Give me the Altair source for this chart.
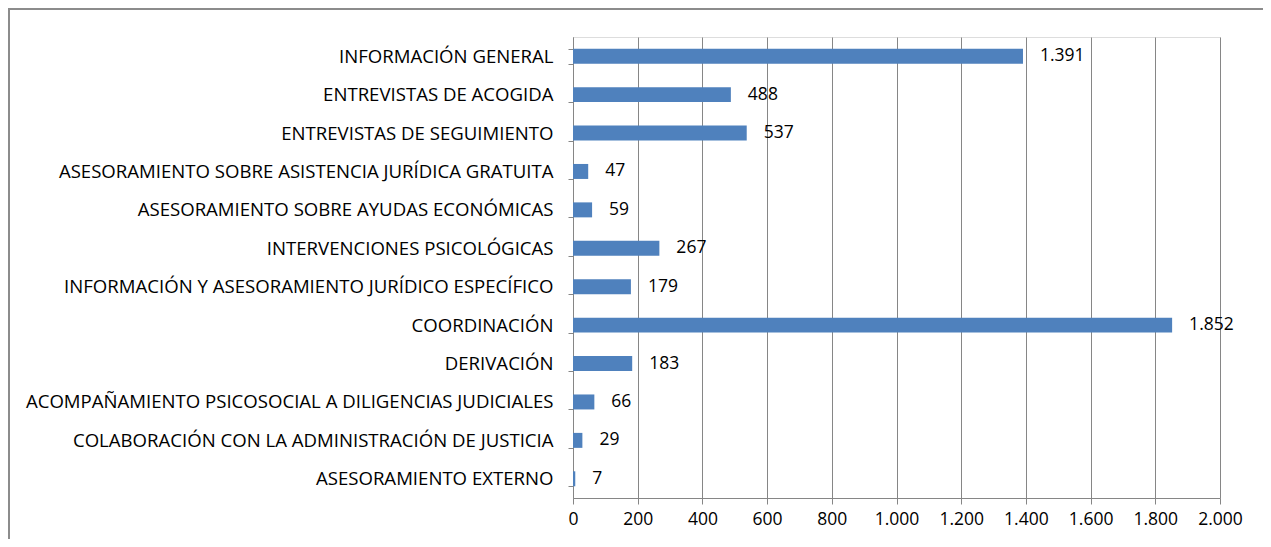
import altair as alt
import pandas as pd

categories = [
    "INFORMACIÓN GENERAL",
    "ENTREVISTAS DE ACOGIDA",
    "ENTREVISTAS DE SEGUIMIENTO",
    "ASESORAMIENTO SOBRE ASISTENCIA JURÍDICA GRATUITA",
    "ASESORAMIENTO SOBRE AYUDAS ECONÓMICAS",
    "INTERVENCIONES PSICOLÓGICAS",
    "INFORMACIÓN Y ASESORAMIENTO JURÍDICO ESPECÍFICO",
    "COORDINACIÓN",
    "DERIVACIÓN",
    "ACOMPAÑAMIENTO PSICOSOCIAL A DILIGENCIAS JUDICIALES",
    "COLABORACIÓN CON LA ADMINISTRACIÓN DE JUSTICIA",
    "ASESORAMIENTO EXTERNO",
]
values = [1391, 488, 537, 47, 59, 267, 179, 1852, 183, 66, 29, 7]
x_ticks = [0, 200, 400, 600, 800, 1000, 1200, 1400, 1600, 1800, 2000]

df = pd.DataFrame({"cat": categories, "val": values})

FONT = "Open Sans"
FS = 18.6
FS_NUM = 17.5
GRAY = "#868686"
W, H = 647, 461

y_enc = alt.Y(
    "cat:N",
    sort=categories,
    title=None,
    scale=alt.Scale(paddingInner=0.61, paddingOuter=0.305),
    axis=alt.Axis(
        tickBand="extent",
        domainColor=GRAY,
        tickColor=GRAY,
        tickSize=5,
        labelFontSize=FS,
        labelFont=FONT,
        labelColor="#000000",
        labelPadding=15,
        labelLimit=700,
        grid=False,
    ),
)
x_enc = alt.X(
    "val:Q",
    title=None,
    scale=alt.Scale(domain=[0, 2000], nice=False),
    axis=alt.Axis(
        values=x_ticks,
        labelExpr="replace(format(datum.value, ','), ',', '.')",
        labelOverlap=False,
        labelFlush=False,
        gridColor=GRAY,
        gridWidth=1,
        domainColor=GRAY,
        tickColor=GRAY,
        tickSize=6,
        labelFontSize=FS_NUM,
        labelFont=FONT,
        labelColor="#000000",
        labelPadding=6,
    ),
)

bars = alt.Chart(df).mark_bar(color="#4F81BD").encode(x=x_enc, y=y_enc)

texts = alt.Chart(df).transform_calculate(
    lbl="replace(format(datum.val, ','), ',', '.')"
).mark_text(align="left", dx=17, fontSize=FS_NUM, font=FONT, color="#000000").encode(
    x="val:Q", y=alt.Y("cat:N", sort=categories), text="lbl:N"
)

frame = alt.Chart(df).mark_rect(
    fill=None, stroke="#8c8c8c", strokeWidth=2
).encode(
    x=alt.value(-564), x2=alt.value(720), y=alt.value(-28), y2=alt.value(560)
)

chart = alt.layer(frame, bars, texts).properties(
    width=W,
    height=H,
    autosize=alt.AutoSizeParams(type="none"),
    padding={"left": 565, "top": 29, "right": 43, "bottom": 41},
).configure_view(stroke=None).configure(background="white")

chart.save("out.html", embed_options={"renderer": "svg", "actions": False})
